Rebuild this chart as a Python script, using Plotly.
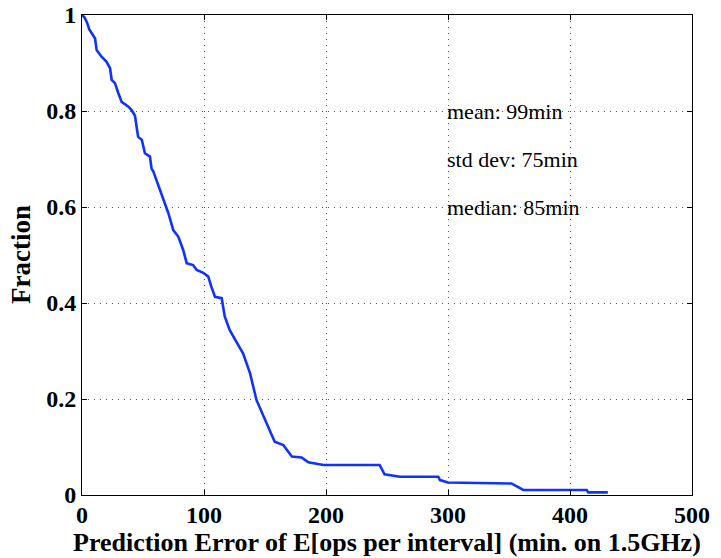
import plotly.graph_objects as go

err_min = [0, 2, 4, 6, 8, 10.7, 12, 16, 20, 23, 24.3, 27, 29.8, 32.5, 38, 40.7, 43.4, 46, 49,
           51.6, 55.7, 57, 58.5, 62.5, 66.7, 70.8, 74.8, 79, 83, 85.8, 91, 94, 99.4, 103.5,
           106, 109, 114.5, 117, 121, 125.4, 129.5, 132, 137.7, 143, 151, 155.5, 158, 165,
           172, 180, 185.5, 198, 244, 248, 260.6, 292, 293.4, 300, 352, 361.7, 413.7, 415, 431]
fraction = [1.0, 0.995, 0.985, 0.97, 0.962, 0.951, 0.927, 0.913, 0.903, 0.889, 0.865, 0.858,
            0.837, 0.819, 0.809, 0.802, 0.79, 0.746, 0.74, 0.712, 0.705, 0.68, 0.674, 0.646,
            0.615, 0.587, 0.552, 0.538, 0.51, 0.483, 0.479, 0.469, 0.463, 0.455, 0.434, 0.413,
            0.41, 0.372, 0.344, 0.323, 0.306, 0.295, 0.254, 0.198, 0.149, 0.125, 0.111, 0.104,
            0.08, 0.078, 0.068, 0.0625, 0.0625, 0.043, 0.038, 0.038, 0.031, 0.026, 0.024,
            0.0104, 0.0104, 0.0055, 0.0055]

x_ticks = [0, 100, 200, 300, 400, 500]
y_ticks = [0, 0.2, 0.4, 0.6, 0.8, 1]
y_tick_text = ["0", "0.2", "0.4", "0.6", "0.8", "1"]

stats_text = ["mean: 99min", "std dev: 75min", "median: 85min"]
stats_y = [0.8, 0.7, 0.6]
stats_x = 300

x_title = "Prediction Error of E[ops per interval] (min. on 1.5GHz)"
y_title = "Fraction"

FONT = "Liberation Serif"

fig = go.Figure()
fig.add_trace(go.Scatter(x=err_min, y=fraction, mode="lines",
                         line=dict(color="#0f32ff", width=2.6), showlegend=False))

axis_common = dict(
    showline=True, linecolor="black", linewidth=1, mirror="allticks",
    ticks="inside", ticklen=5, tickcolor="black", tickwidth=1,
    showgrid=True, gridcolor="#555555", griddash="1px,5px", gridwidth=1,
    zeroline=False, automargin=False,
    tickfont=dict(family=FONT, size=24, color="black", weight="bold"),
)

fig.update_xaxes(range=[0, 500], tickvals=x_ticks, ticklabelstandoff=-2, **axis_common)
fig.update_yaxes(range=[0, 1], tickvals=y_ticks, ticktext=y_tick_text, **axis_common)

for t, yy in zip(stats_text, stats_y):
    fig.add_annotation(x=stats_x, y=yy, text=t, showarrow=False, xanchor="left",
                       yanchor="middle", xshift=-3,
                       font=dict(family=FONT, size=22, color="black"))

fig.add_annotation(xref="paper", yref="paper", x=0.5, y=0, yshift=-47, text=x_title,
                   showarrow=False, xanchor="center", yanchor="middle",
                   font=dict(family=FONT, size=26, color="black", weight="bold"))
fig.add_annotation(xref="paper", yref="paper", x=0, xshift=-61, y=0.5, text=y_title,
                   showarrow=False, xanchor="center", yanchor="middle", textangle=-90,
                   font=dict(family=FONT, size=27, color="black", weight="bold"))

fig.update_layout(width=721, height=558, margin=dict(l=82, r=29, t=15, b=63, autoexpand=False),
                  paper_bgcolor="white", plot_bgcolor="white")

fig.write_html("out.html")
